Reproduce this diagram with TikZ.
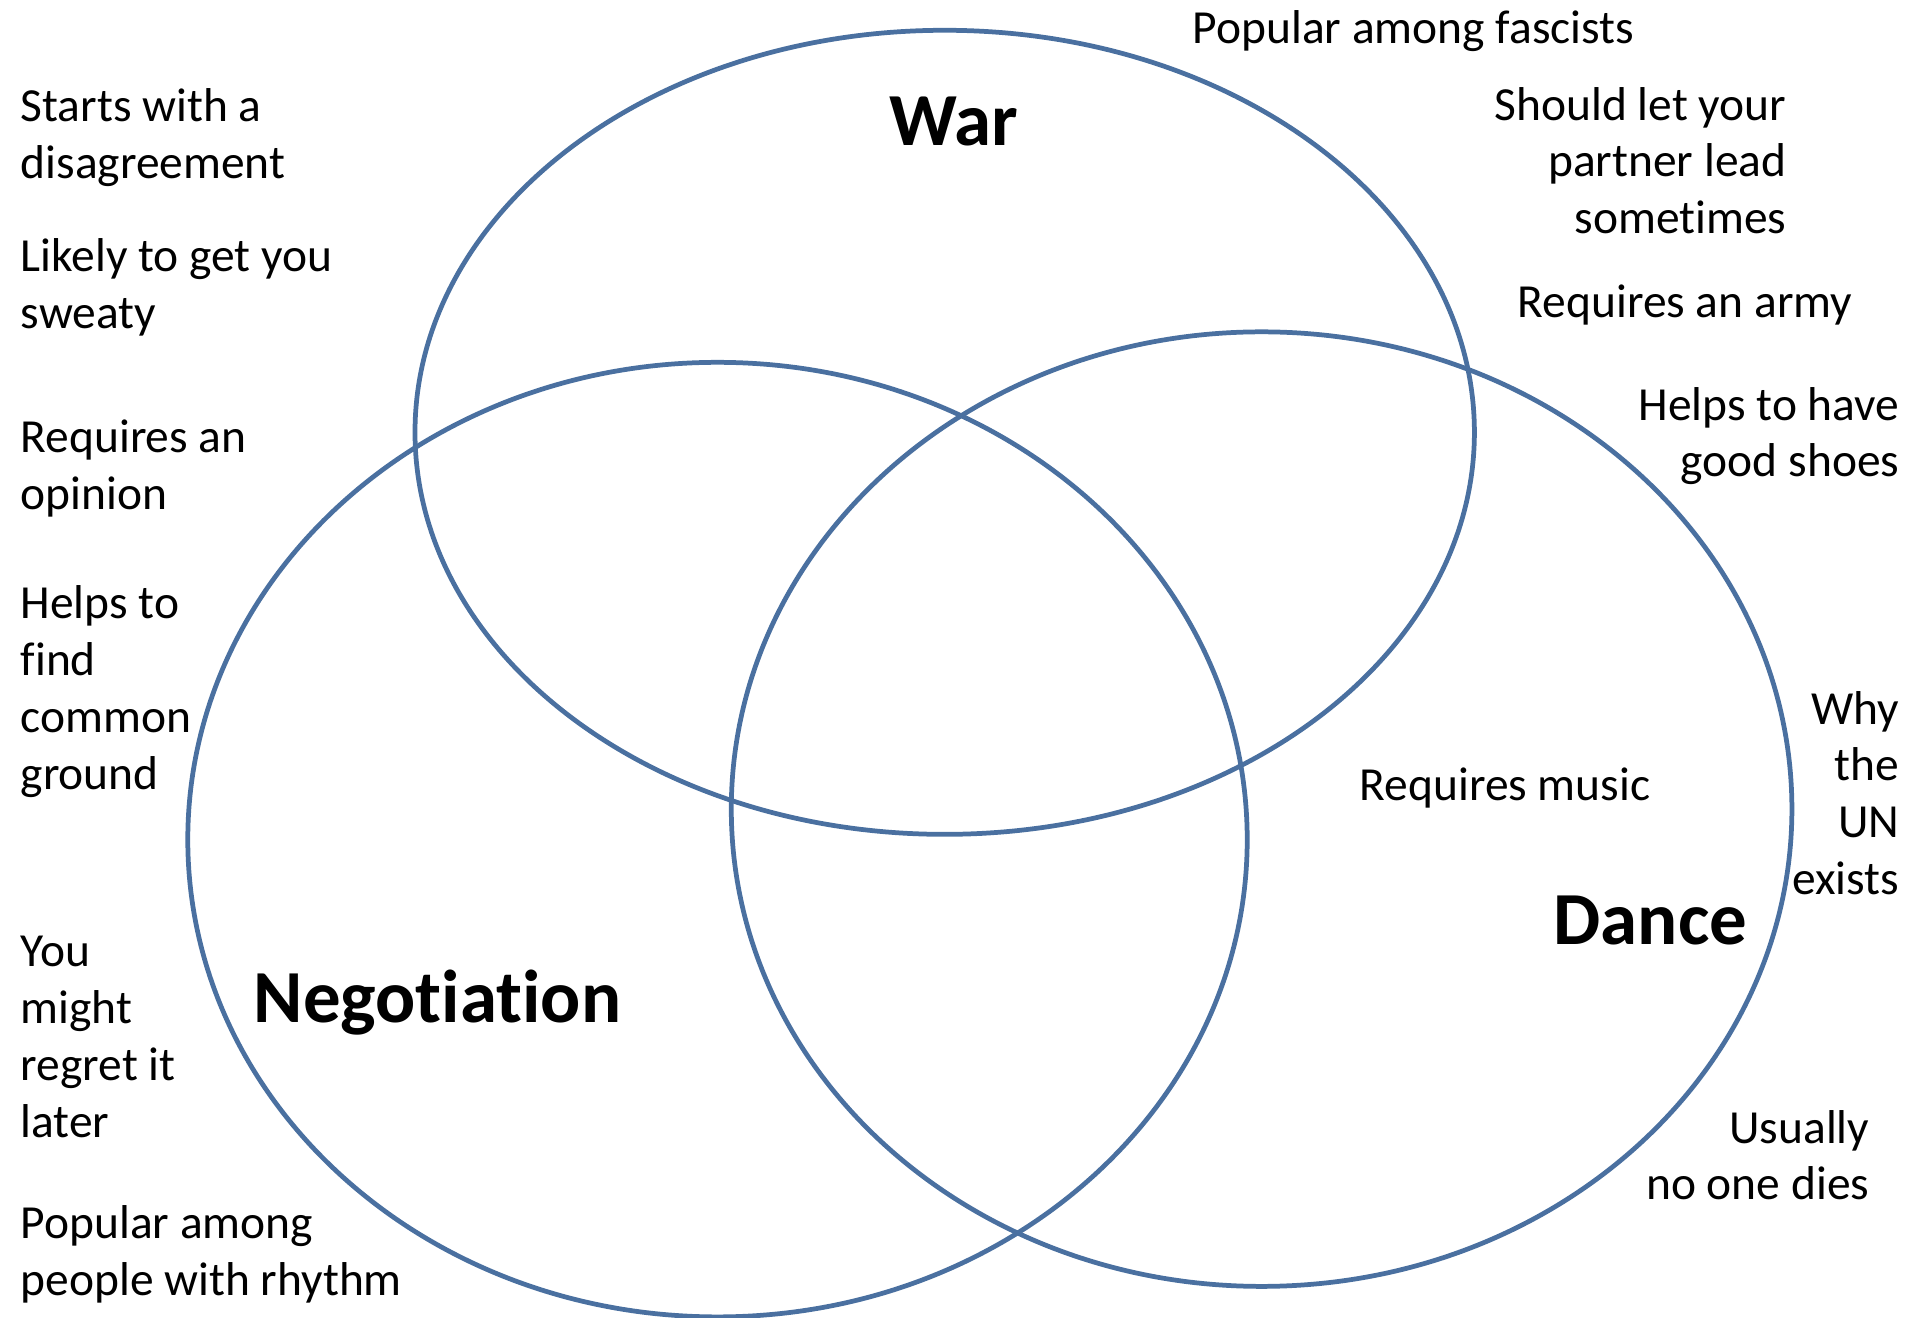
\documentclass[tikz,border=0pt]{standalone}
\usepackage{fontspec}
\setmainfont{Carlito}[Ligatures={NoCommon,NoContextual}]
\definecolor{setblue}{RGB}{74,112,160}
\newcommand{\notefont}{\fontsize{13.5pt}{16.2pt}\selectfont}
\newcommand{\titlefont}{\fontsize{21.3pt}{25pt}\selectfont\bfseries}
\newcommand{\leftlines}[1]{\begin{tabular}[t]{@{}l@{}}#1\end{tabular}}
\newcommand{\rightlines}[1]{\begin{tabular}[t]{@{}r@{}}#1\end{tabular}}
\begin{document}
\begin{tikzpicture}[x=0.01cm,y=-0.01cm,
  setline/.style={draw=setblue,line width=1.35pt},
  note/.style={inner sep=0pt,font=\notefont},
  setname/.style={inner sep=0pt,font=\titlefont,anchor=base west}]
\useasboundingbox (0,0) rectangle (1915,1317);
% the three sets
\draw[setline] (944.7,432.3) ellipse [x radius=5.294cm,y radius=4.018cm];
\draw[setline] (717.5,839.6) ellipse [x radius=5.294cm,y radius=4.77cm];
\draw[setline] (1261.6,809.1) ellipse [x radius=5.30cm,y radius=4.77cm];
\node[setname] (war) at (889,145) {War};
\node[setname] (negotiation) at (253,1022) {Negotiation};
\node[setname] (dance) at (1553,944) {Dance};
% left column
\node[note,anchor=base west] (starts) at (20,121.7) {\leftlines{Starts with a\\disagreement}};
\node[note,anchor=base west] (sweaty) at (20,271.7) {\leftlines{Likely to get you\\sweaty}};
\node[note,anchor=base west] (opinion) at (20,452.7) {\leftlines{Requires an\\opinion}};
\node[note,anchor=base west] (ground) at (20,618.3) {\leftlines{Helps to\\find\\common\\ground}};
\node[note,anchor=base west] (regret) at (20,966.7) {\leftlines{You\\might\\regret it\\later}};
\node[note,anchor=base west] (rhythm) at (20,1238.3) {\leftlines{Popular among\\people with rhythm}};
% right side
\node[note,anchor=base west] (fascists) at (1192,43) {Popular among fascists};
\node[note,anchor=base east] (partner) at (1787,120) {\rightlines{Should let your\\partner lead\\sometimes}};
\node[note,anchor=base west] (army) at (1517,317) {Requires an army};
\node[note,anchor=base east] (shoes) at (1900,420) {\rightlines{Helps to have\\good shoes}};
\node[note,anchor=base west] (music) at (1359,800) {Requires music};
\node[note,anchor=base east] (un) at (1900,724) {\rightlines{Why\\the\\UN\\exists}};
\node[note,anchor=base east] (dies) at (1870,1143) {\rightlines{Usually\\no one dies}};
\end{tikzpicture}
\end{document}
